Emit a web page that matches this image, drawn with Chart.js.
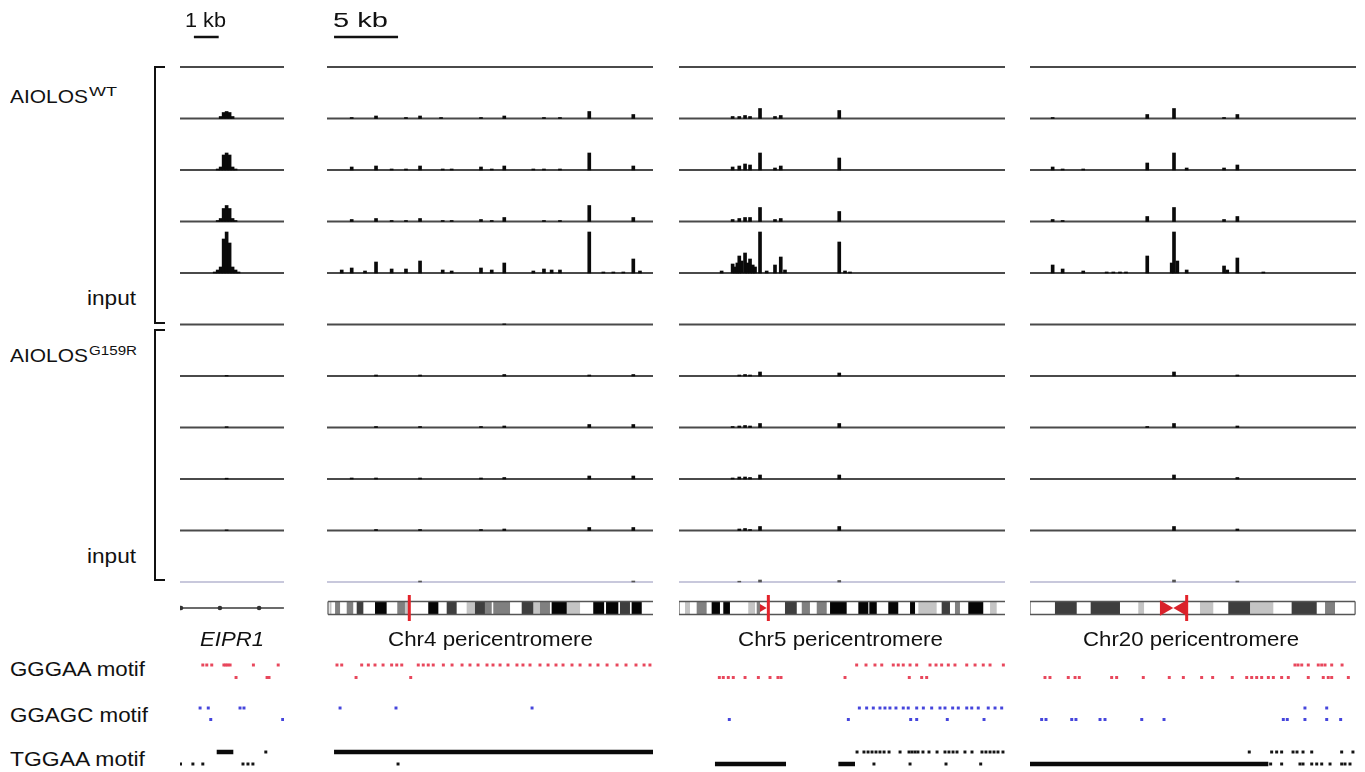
<!DOCTYPE html>
<html>
<head>
<meta charset="utf-8">
<script src="https://cdn.jsdelivr.net/npm/chart.js@4.4.1/dist/chart.umd.min.js"></script>
<style>
  body { margin: 0; background: #fff; width: 1365px; height: 772px; overflow: hidden; position: relative;
         font-family: "Liberation Sans", Arial, sans-serif; color: #111; }
  canvas { position: absolute; top: 0; }
  .lbl { position: absolute; white-space: nowrap; line-height: 1; transform-origin: 0 0; }
  .brk { position: absolute; border: 2px solid #111; border-right: none; }
</style>
</head>
<body>
<canvas id="col-eipr1" width="104" height="772"></canvas>
<canvas id="col-chr4" width="326" height="772"></canvas>
<canvas id="col-chr5" width="326" height="772"></canvas>
<canvas id="col-chr20" width="326" height="772"></canvas>
<div class="brk" style="left:154px;top:66px;width:9px;height:254px"></div>
<div class="brk" style="left:154px;top:329px;width:9px;height:248px"></div>
<script>
// ---- data (kb from left edge of each window; signal in coverage units) ----

// EIPR1 locus, 4 ChIP replicates each + input
const EIPR1_WT = [
  [[1.64, 2], [1.76, 6], [1.88, 7], [2.0, 6], [2.12, 2]],
  [[1.52, 1], [1.64, 3], [1.76, 15], [1.88, 17], [2.0, 15], [2.12, 3], [2.24, 1]],
  [[1.52, 1], [1.64, 3], [1.76, 13], [1.88, 16], [2.0, 13], [2.12, 3], [2.24, 1]],
  [[1.4, 1], [1.52, 3], [1.64, 6], [1.76, 34], [1.88, 41], [2.0, 30], [2.12, 6], [2.24, 3], [2.36, 1]]
];
const EIPR1_WT_INPUT = [];
const EIPR1_MUT = [[[1.88, 0.6]], [[1.88, 0.8]], [[1.88, 0.8]], [[1.88, 0.6]]];
const EIPR1_MUT_INPUT = [];

const CHR4_WT = [
  [[1.93, 1], [3.83, 2.5], [6.17, 1], [7.27, 2.5], [8.91, 1], [12.03, 1], [13.85, 2.5], [16.95, 1], [18.2, 1], [20.49, 7], [23.93, 4]],
  [[1.93, 3], [3.83, 4], [5.05, 1], [6.17, 1], [7.27, 4], [9.04, 1], [9.74, 1], [12.03, 3], [12.87, 1], [13.85, 4], [16.12, 1], [16.95, 1], [18.2, 1], [20.49, 17], [23.93, 4]],
  [[1.93, 2], [3.83, 3], [5.05, 1], [6.17, 1], [7.27, 3], [9.04, 1], [9.74, 1], [12.03, 2], [12.87, 1], [13.85, 4], [16.95, 1], [18.2, 1], [20.49, 16], [23.93, 4]],
  [[1.15, 3], [1.93, 5], [2.97, 2], [3.83, 11], [5.05, 4], [6.17, 4], [7.27, 12], [9.04, 3], [9.74, 2], [12.03, 5], [12.87, 3], [13.85, 10], [16.12, 2], [16.95, 4], [17.55, 3], [18.2, 3], [20.49, 41], [21.59, 1], [22.37, 1], [23.15, 1], [23.93, 14], [24.45, 2]]
];
const CHR4_WT_INPUT = [[13.85, 0.6]];
const CHR4_MUT = [
  [[3.83, 1], [7.27, 1], [13.85, 1.5], [20.49, 1], [23.93, 1.5]],
  [[3.83, 1], [7.27, 1], [12.03, 1], [13.85, 1.5], [20.49, 3], [23.93, 3]],
  [[1.93, 1], [3.83, 1], [7.27, 1], [12.03, 1], [13.85, 1.5], [20.49, 3], [23.93, 3]],
  [[3.83, 1], [7.27, 1], [12.03, 1], [13.85, 1.5], [20.49, 3], [23.93, 3]]
];
const CHR4_MUT_INPUT = [[7.27, 1], [23.93, 1]];

const CHR5_WT = [
  [[4.19, 2], [4.71, 2], [5.16, 3], [5.55, 2], [6.33, 10], [7.5, 2], [7.95, 3], [12.52, 8]],
  [[4.19, 3], [4.71, 4], [5.16, 6], [5.55, 5], [6.33, 17], [7.5, 2], [7.95, 4], [12.52, 12]],
  [[4.19, 2], [4.71, 3], [5.16, 4], [5.55, 4], [6.33, 14], [7.5, 2], [7.95, 3], [12.52, 10]],
  [[3.33, 2], [4.19, 9], [4.38, 6], [4.56, 10], [4.71, 17], [4.9, 12], [5.16, 20], [5.34, 10], [5.55, 14], [5.76, 8], [5.94, 6], [6.33, 41], [6.85, 2], [7.5, 8], [7.95, 16], [8.28, 3], [12.52, 31], [12.97, 2], [13.36, 1]]
];
const CHR5_WT_INPUT = [];
const CHR5_MUT = [
  [[4.71, 1], [5.16, 1.5], [5.55, 1], [6.33, 4], [12.52, 3]],
  [[4.19, 1], [4.71, 1.5], [5.16, 2], [5.55, 1.5], [6.33, 4], [12.52, 4]],
  [[4.19, 1], [4.71, 2], [5.16, 2], [5.55, 1.5], [6.33, 4], [12.52, 4]],
  [[4.71, 1.5], [5.16, 2], [5.55, 1], [6.33, 4], [12.52, 4]]
];
const CHR5_MUT_INPUT = [[4.71, 0.8], [6.33, 2], [12.52, 1.5]];

const CHR20_WT = [
  [[1.77, 1], [9.16, 4], [11.25, 10], [15.16, 1], [16.2, 4]],
  [[1.77, 3], [2.55, 1], [4.16, 1], [9.16, 7], [11.25, 17], [12.24, 2], [15.16, 2], [16.2, 5]],
  [[1.77, 2], [2.55, 1], [9.16, 5], [11.25, 14], [15.16, 2], [16.2, 5]],
  [[1.77, 8], [2.55, 4], [4.16, 2], [5.99, 1], [6.51, 1], [7.03, 1], [7.5, 1], [9.16, 17], [11.07, 10], [11.25, 41], [11.51, 12], [12.24, 3], [15.16, 7], [15.41, 3], [16.2, 15], [18.23, 1]]
];
const CHR20_WT_INPUT = [];
const CHR20_MUT = [
  [[11.25, 4], [16.2, 1]],
  [[9.16, 1], [11.25, 4], [16.2, 1.5]],
  [[11.25, 4], [16.2, 1.5]],
  [[11.25, 4], [16.2, 1.5]]
];
const CHR20_MUT_INPUT = [[11.25, 2], [16.2, 1]];

// gene model / ideograms
const EIPR1_GENE = [0, 4.19];
const EIPR1_EXONS = [0.04, 1.61, 3.19];

const CHR4_EXTENT = [0.08, 25.47];
const CHR4_BANDS = [[0.2, 0.35, 'gpos25'], [0.63, 1.02, 'gpos50'], [1.54, 2.05, 'gpos50'], [2.32, 2.84, 'gpos75'], [3.75, 4.66, 'gpos100'],
  [5.49, 6.09, 'gpos50'], [6.09, 6.35, 'gpos25'], [7.91, 8.7, 'gpos100'], [9.35, 10.13, 'gpos75'], [10.91, 11.56, 'gpos25'],
  [11.56, 12.34, 'gpos75'], [12.34, 12.87, 'gpos50'], [12.99, 14.3, 'gpos50'], [15.21, 16.12, 'gpos75'], [16.12, 16.64, 'gpos25'],
  [16.64, 17.42, 'gpos50'], [17.55, 18.73, 'gpos100'], [18.73, 19.77, 'gpos25'], [20.8, 21.65, 'gpos100'], [21.8, 22.76, 'gpos100'],
  [22.89, 23.67, 'gpos75'], [23.8, 24.59, 'gpos100']];
const CHR4_CEN = 6.43;
const CHR4_ACEN = [];

const CHR5_EXTENT = [0, 25.47];
const CHR5_BANDS = [[0.47, 0.86, 'gpos25'], [1.38, 2.16, 'gpos50'], [2.55, 3.2, 'gpos100'], [3.46, 3.98, 'gpos100'], [5.41, 5.94, 'gpos25'],
  [6.07, 6.33, 'gpos50'], [8.28, 9.2, 'gpos75'], [9.59, 10.23, 'gpos50'], [10.76, 11.54, 'gpos50'], [11.8, 13.1, 'gpos100'],
  [14.01, 14.79, 'gpos100'], [14.87, 15.45, 'gpos100'], [16.35, 17.13, 'gpos100'], [18.05, 18.44, 'gpos100'], [18.7, 20.13, 'gpos25'],
  [20.52, 21.17, 'gpos75'], [21.56, 21.95, 'gpos50'], [22.6, 23.77, 'gpos100'], [24.3, 24.82, 'gpos25']];
const CHR5_CEN = 6.98;
const CHR5_ACEN = [[6.5, 'p']];

const CHR20_EXTENT = [0, 25.4];
const CHR20_BANDS = [[1.95, 3.65, 'gpos75'], [4.74, 7.03, 'gpos75'], [8.46, 8.91, 'gpos25'], [13.28, 14.32, 'gpos25'],
  [15.49, 17.19, 'gpos75'], [17.19, 19.01, 'gpos25'], [20.44, 22.4, 'gpos75'], [23.05, 23.83, 'gpos50']];
const CHR20_CEN = 12.24;
const CHR20_ACEN = [[10.5, 'p'], [11.89, 'q']];

// motif hits: [forward strand, reverse strand]
const EIPR1_GGGAA = [[0.92, 1.08, 1.28, 1.77, 1.85, 1.93, 2.02, 2.96, 3.96], [2.26, 3.51, 3.59]];
const EIPR1_GGAGC = [[0.81, 1.14, 2.42, 2.58], [1.24, 4.14]];
const EIPR1_TGGAA = [[3.46], [0.02, 0.52, 0.92, 2.54, 2.74, 2.94]];
const EIPR1_TGGAA_RUNS = [[[1.48, 2.15]], []];

const CHR4_GGGAA = [[0.78, 1.15, 2.71, 3.23, 3.75, 4.38, 5.05, 5.45, 5.84, 7.13, 7.52, 7.91, 8.3, 9.09, 9.77, 10.55, 11.17, 11.8, 12.5,
  12.97, 13.52, 14.14, 14.84, 15.31, 15.86, 16.64, 17.27, 17.89, 18.44, 19.14, 19.77, 20.55, 21.17, 21.88, 22.66, 23.36, 24.14, 24.77, 25.23],
  [2.27, 6.54]];
const CHR4_GGAGC = [[1.02, 5.39, 16.02], []];
const CHR4_TGGAA = [[], [5.55]];
const CHR4_TGGAA_RUNS = [[[0.55, 25.47]], []];

const CHR5_GGGAA = [[13.88, 14.61, 15.31, 15.84, 16.74, 17.13, 17.52, 18.05, 18.57, 19.61, 20.08, 20.52, 21.04, 21.56, 22.48, 23.13, 23.77, 24.3, 25.34],
  [3.15, 3.46, 3.85, 4.24, 5.16, 6.2, 7.11, 7.73, 7.97, 12.97, 17.99, 18.96, 19.35]];
const CHR5_GGAGC = [[14.09, 14.66, 15.18, 15.7, 16.09, 16.48, 16.95, 17.52, 17.91, 18.57, 19.09, 19.74, 20.39, 20.78, 21.38, 21.82,
  22.48, 22.87, 23.38, 24.16, 24.69, 25.21], [3.93, 13.23, 18.1, 18.57, 20.96, 23.83]];
const CHR5_TGGAA = [[13.91, 14.45, 14.77, 15.08, 15.39, 15.7, 16.02, 16.41, 17.27, 17.97, 18.2, 18.44, 18.67, 19.06, 19.53, 20.16, 20.78,
  21.09, 21.41, 21.72, 22.34, 22.89, 23.67, 23.98, 24.3, 24.61, 24.92, 25.31], [15.23, 18.05, 20.86, 23.57]];
const CHR5_TGGAA_RUNS = [[], [[2.81, 8.36], [12.45, 13.75]]];

const CHR20_GGGAA = [[20.7, 20.94, 21.23, 21.74, 22.52, 22.79, 23.05, 23.57, 24.38],
  [1.17, 1.56, 2.99, 3.52, 3.85, 6.38, 6.77, 8.85, 10.88, 11.98, 13.41, 14.27, 15.8, 16.93, 17.32, 17.71, 18.1, 18.62, 19.01, 19.66,
   20.18, 21.74, 22.91, 23.3, 23.57, 24.87]];
const CHR20_GGAGC = [[21.48, 23.18], [0.91, 1.25, 3.26, 3.59, 5.47, 5.86, 8.73, 10.47, 19.79, 20.1, 21.48, 23.18, 24.27]];
const CHR20_TGGAA = [[17.13, 18.88, 19.27, 19.66, 20.55, 20.86, 21.33, 22.01, 24.35, 25.23],
  [18.8, 19.66, 21.09, 21.33, 22.01, 22.4, 22.79, 23.44, 24.35, 24.61, 25.0]];
const CHR20_TGGAA_RUNS = [[], [[0, 18.62]]];

// ---- layout ----
const ROW_PX = 51.5;                       // one track row in pixels
const Y_MIN = -67 / ROW_PX, Y_MAX = (772 - 67) / ROW_PX;
const px = v => v / ROW_PX;
const IDEO_ROW = px(608 - 67);
const MOTIF_ROWS = { GGGAA: [px(665 - 67), px(677.5 - 67)], GGAGC: [px(708 - 67), px(719.5 - 67)], TGGAA: [px(752 - 67), px(764 - 67)] };
const SCALE_ROW = px(37 - 67);
const STAIN = { gpos100: '#050505', gpos75: '#3e3e3e', gpos50: '#808080', gpos25: '#c4c4c4' };
const MOTIF_COLOR = { GGGAA: '#e8475c', GGAGC: '#4545dc', TGGAA: '#141414' };

function line(points, color, width, order = 3) {
  return { type: 'line', data: points, borderColor: color, borderWidth: width, pointRadius: 0,
           borderCapStyle: 'butt', tension: 0, order };
}

function segments(intervals, row) {
  const pts = [];
  intervals.forEach(([s, e]) => { pts.push({ x: s, y: row }, { x: e, y: row }, { x: e, y: null }); });
  return pts;
}

function buildColumn(id, left, span, col) {
  const canvas = document.getElementById(id);
  canvas.style.left = left + 'px';
  const ds = [];
  const rows = [[], ...col.wt, col.wtInput, ...col.mut, col.mutInput];
  rows.forEach((peaks, row) => {
    const last = row === rows.length - 1;
    ds.push(line([{ x: 0, y: row }, { x: span, y: row }], last ? '#c8c8dc' : '#4a4a4a', 2));
    ds.push({ type: 'bar', data: peaks.map(([x, s]) => ({ x, y: [row, row - px(s)] })),
              backgroundColor: last ? '#555' : '#0a0a0a', barThickness: 3, grouped: false, order: 1 });
  });

  if (col.gene) {
    ds.push(line([{ x: col.gene[0], y: IDEO_ROW }, { x: col.gene[1], y: IDEO_ROW }], '#3a3a3a', 1.5));
    ds.push({ type: 'line', showLine: false, data: col.exons.map(x => ({ x, y: IDEO_ROW })),
              pointRadius: 2.3, pointBackgroundColor: '#333', pointBorderWidth: 0, order: 1 });
  } else {
    const [a, b] = col.extent;
    const half = px(6.5);
    Object.keys(STAIN).forEach(st => {
      const iv = col.bands.filter(d => d[2] === st);
      if (iv.length) ds.push(line(segments(iv, IDEO_ROW), STAIN[st], 13, 2));
    });
    ds.push(line([{ x: a, y: IDEO_ROW - half }, { x: b, y: IDEO_ROW - half }], '#555', 1.5, 1));
    ds.push(line([{ x: a, y: IDEO_ROW + half }, { x: b, y: IDEO_ROW + half }], '#555', 1.5, 1));
    ds.push(line([{ x: a, y: IDEO_ROW - half }, { x: a, y: IDEO_ROW + half }, { x: a, y: null },
                  { x: b, y: IDEO_ROW - half }, { x: b, y: IDEO_ROW + half }], '#777', 1.5, 1));
    col.acen.forEach(([x, arm]) => {
      ds.push({ type: 'line', showLine: false, data: [{ x, y: IDEO_ROW }], pointStyle: 'triangle',
                rotation: arm === 'p' ? 90 : -90, pointRadius: col.acenSize, pointBackgroundColor: '#d9222b',
                pointBorderWidth: 0, order: 0 });
    });
    ds.push(line([{ x: col.cen, y: IDEO_ROW - px(13) }, { x: col.cen, y: IDEO_ROW + px(13) }], '#e3232b', 3, 0));
  }

  ['GGGAA', 'GGAGC', 'TGGAA'].forEach(m => {
    col.motifs[m].forEach((hits, k) => {
      ds.push({ type: 'line', showLine: false, data: hits.map(x => ({ x, y: MOTIF_ROWS[m][k] })), pointStyle: 'rect',
                pointRadius: 2.1, pointBackgroundColor: MOTIF_COLOR[m], pointBorderWidth: 0, order: 1 });
    });
  });
  col.runs.forEach((iv, k) => {
    if (iv.length) ds.push(line(segments(iv, MOTIF_ROWS.TGGAA[k]), '#0a0a0a', 4.5, 1));
  });
  if (col.scaleBar) ds.push(line([{ x: col.scaleBar[0], y: SCALE_ROW }, { x: col.scaleBar[1], y: SCALE_ROW }], '#111', 2.5, 1));

  new Chart(canvas, {
    type: 'bar',
    data: { datasets: ds },
    options: {
      responsive: false, animation: false, devicePixelRatio: 1, events: [],
      layout: { padding: 0, autoPadding: false },
      plugins: { legend: { display: false }, tooltip: { enabled: false } },
      scales: {
        x: { type: 'linear', display: false, min: 0, max: span, offset: false },
        y: { type: 'linear', display: false, min: Y_MIN, max: Y_MAX, reverse: true }
      }
    }
  });
}

buildColumn('col-eipr1', 180, 104 / 24.8, {
  wt: EIPR1_WT, wtInput: EIPR1_WT_INPUT, mut: EIPR1_MUT, mutInput: EIPR1_MUT_INPUT,
  gene: EIPR1_GENE, exons: EIPR1_EXONS,
  motifs: { GGGAA: EIPR1_GGGAA, GGAGC: EIPR1_GGAGC, TGGAA: EIPR1_TGGAA }, runs: EIPR1_TGGAA_RUNS,
  scaleBar: [0.56, 1.56]
});
buildColumn('col-chr4', 327, 326 / 12.8, {
  wt: CHR4_WT, wtInput: CHR4_WT_INPUT, mut: CHR4_MUT, mutInput: CHR4_MUT_INPUT,
  extent: CHR4_EXTENT, bands: CHR4_BANDS, cen: CHR4_CEN, acen: CHR4_ACEN, acenSize: 5,
  motifs: { GGGAA: CHR4_GGGAA, GGAGC: CHR4_GGAGC, TGGAA: CHR4_TGGAA }, runs: CHR4_TGGAA_RUNS,
  scaleBar: [0.55, 5.55]
});
buildColumn('col-chr5', 679, 326 / 12.8, {
  wt: CHR5_WT, wtInput: CHR5_WT_INPUT, mut: CHR5_MUT, mutInput: CHR5_MUT_INPUT,
  extent: CHR5_EXTENT, bands: CHR5_BANDS, cen: CHR5_CEN, acen: CHR5_ACEN, acenSize: 4.5,
  motifs: { GGGAA: CHR5_GGGAA, GGAGC: CHR5_GGAGC, TGGAA: CHR5_TGGAA }, runs: CHR5_TGGAA_RUNS
});
buildColumn('col-chr20', 1030, 326 / 12.8, {
  wt: CHR20_WT, wtInput: CHR20_WT_INPUT, mut: CHR20_MUT, mutInput: CHR20_MUT_INPUT,
  extent: CHR20_EXTENT, bands: CHR20_BANDS, cen: CHR20_CEN, acen: CHR20_ACEN, acenSize: 8.9,
  motifs: { GGGAA: CHR20_GGGAA, GGAGC: CHR20_GGAGC, TGGAA: CHR20_TGGAA }, runs: CHR20_TGGAA_RUNS
});

// ---- text ----
function label(text, x, base, size, width, align = 'left', italic = false) {
  const el = document.createElement('div');
  el.className = 'lbl';
  el.textContent = text;
  el.style.fontSize = size + 'px';
  if (italic) el.style.fontStyle = 'italic';
  document.body.appendChild(el);
  const w = el.getBoundingClientRect().width;
  const left = align === 'center' ? x - width / 2 : align === 'right' ? x - width : x;
  el.style.left = left + 'px';
  el.style.top = (base - 0.8465 * size) + 'px';
  el.style.transform = `scaleX(${width / w})`;
}

label('1 kb', 185, 27, 20, 41);
label('5 kb', 333, 27, 20, 55);
label('AIOLOS', 10, 103, 19, 78);
label('WT', 89, 96, 12, 28);
label('input', 136, 305, 20, 49, 'right');
label('AIOLOS', 10, 362, 19, 78);
label('G159R', 89, 355, 12, 48);
label('input', 136, 563, 20, 49, 'right');
label('EIPR1', 232, 646, 21, 64, 'center', true);
label('Chr4 pericentromere', 490, 646, 21, 205, 'center');
label('Chr5 pericentromere', 840, 646, 21, 205, 'center');
label('Chr20 pericentromere', 1191, 646, 21, 216, 'center');
label('GGGAA motif', 10, 676, 21, 135);
label('GGAGC motif', 10, 722, 21, 138);
label('TGGAA motif', 10, 766, 21, 135);
</script>
</body>
</html>
